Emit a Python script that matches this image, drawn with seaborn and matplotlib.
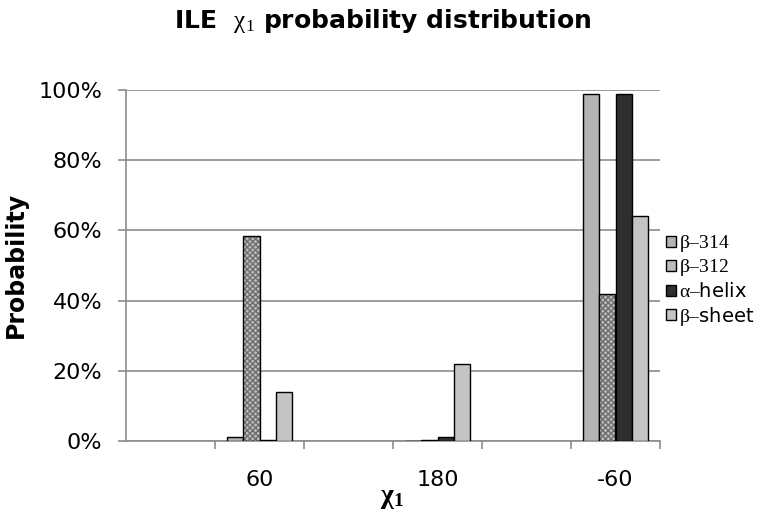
import matplotlib
matplotlib.use("Agg")
import matplotlib.pyplot as plt
from matplotlib.ticker import PercentFormatter, FixedLocator
import numpy as np
import pandas as pd
import seaborn as sns

# ----------------------------------------------
# Data
# ----------------------------------------------
CHI1 = ["60", "180", "-60"]
SERIES = ["β-314", "β-312", "α-helix", "β-sheet"]

beta_314 = [0.011, 0.000, 0.990]
beta_312 = [0.583, 0.004, 0.418]
alpha_helix = [0.003, 0.010, 0.988]
beta_sheet = [0.140, 0.220, 0.641]

LEGEND_LABELS = [
    r"$\mathrm{\beta–314}$",
    r"$\mathrm{\beta–312}$",
    r"$\mathrm{\alpha–}$helix",
    r"$\mathrm{\beta–}$sheet",
]
COLORS = ["#b4b4b4", "#bdbdbd", "#2e2e2e", "#c4c4c4"]

df = pd.DataFrame({
    "chi1": CHI1 * 4,
    "structure": np.repeat(SERIES, len(CHI1)),
    "prob": beta_314 + beta_312 + alpha_helix + beta_sheet,
})

sns.set_theme(style="white")
plt.rcParams["font.family"] = ["DejaVu Sans"]
plt.rcParams["text.color"] = "black"
plt.rcParams["xtick.color"] = "black"
plt.rcParams["ytick.color"] = "black"
plt.rcParams["mathtext.fontset"] = "custom"
plt.rcParams["mathtext.rm"] = "Liberation Serif"
plt.rcParams["mathtext.it"] = "Liberation Serif:italic"
plt.rcParams["mathtext.bf"] = "Liberation Serif:bold"

GRID = "#8c8c8c"

fig = plt.figure(figsize=(7.7, 5.12), dpi=100)
ax = fig.add_axes([126 / 770, 1 - 441 / 512, 534 / 770, 351 / 512])

sns.barplot(
    data=df, x="chi1", y="prob", hue="structure",
    order=CHI1, hue_order=SERIES, palette=COLORS,
    width=0.37, gap=0, edgecolor="black", linewidth=1.0,
    errorbar=None, ax=ax, zorder=3,
)

# speckled fill for the beta-312 bars
for bar in ax.containers[1]:
    bar.set_hatch("xxxxxx")
    try:
        bar.set_hatchcolor("#6e6e6e")
    except AttributeError:
        bar._hatch_color = matplotlib.colors.to_rgba("#6e6e6e")

ax.set_xlim(-0.75, 2.25)
ax.set_ylim(0, 1)
ax.yaxis.set_major_locator(FixedLocator(np.arange(0, 1.01, 0.2)))
ax.yaxis.set_major_formatter(PercentFormatter(1.0, decimals=0))
ax.grid(axis="y", color=GRID, linewidth=1.2, zorder=0)

ax.xaxis.set_minor_locator(FixedLocator(np.arange(-0.25, 2.3, 0.5)))
ax.tick_params(axis="x", which="major", length=0, labelsize=16, pad=21)
ax.tick_params(axis="x", which="minor", length=6, width=1.2, color=GRID, bottom=True)
ax.tick_params(axis="y", length=6, width=1.2, color=GRID, labelsize=16, pad=11, left=True)

for side in ["top", "right"]:
    ax.spines[side].set_visible(False)
for side in ["left", "bottom"]:
    ax.spines[side].set_color(GRID)
    ax.spines[side].set_linewidth(1.2)

ax.set_xlabel("")
ax.set_ylabel("")
fig.text(16 / 770, 1 - 265 / 512, "Probability", rotation=90, fontsize=17,
         fontweight="bold", ha="center", va="center")
fig.text(392 / 770, 1 - 497 / 512, r"$\mathbf{\chi_1}$", fontsize=20,
         ha="center", va="center")
fig.text(383 / 770, 1 - 21 / 512, r"ILE  $\mathrm{\chi_1}$ probability distribution",
         fontsize=18, fontweight="bold", ha="center", va="center")

handles, _ = ax.get_legend_handles_labels()
ax.legend_.remove()
leg = fig.legend(
    handles, LEGEND_LABELS, loc="upper left",
    bbox_to_anchor=(666 / 770, 1 - 233 / 512),
    frameon=False, fontsize=14, handlelength=0.5, handleheight=0.5,
    handletextpad=0.15, labelspacing=0.18, borderaxespad=0, borderpad=0,
)

plt.savefig("out.png", dpi=100)
plt.close()
